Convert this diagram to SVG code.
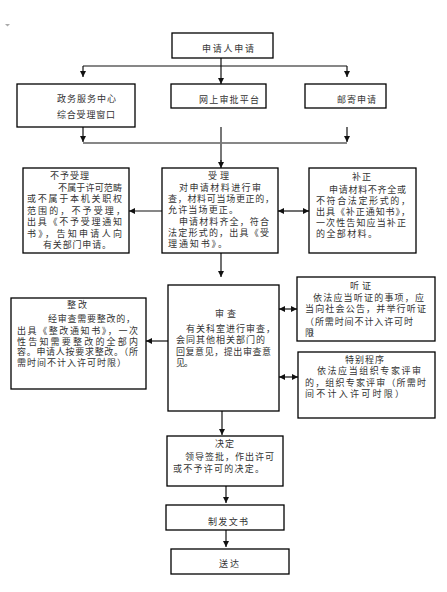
<svg xmlns="http://www.w3.org/2000/svg" width="447" height="592" viewBox="0 0 447 592">
<style>
.box{fill:#fff;stroke:#000;stroke-width:1.3}
.t{font-family:"Liberation Sans","Noto Sans CJK SC",sans-serif;font-size:9px;fill:#333}
.ln{fill:none;stroke:#111;stroke-width:1.2}
.gr{fill:none;stroke:#777;stroke-width:2}
</style>
<defs>
<marker id="ah" markerUnits="userSpaceOnUse" markerWidth="7" markerHeight="7" refX="6" refY="3" orient="auto-start-reverse">
<path d="M0,0 L6,3 L0,6 z" fill="#111"/>
</marker>
</defs>
<rect width="447" height="592" fill="#fff"/>
<polygon points="5,24 10,24 7.5,26.5" fill="#aaa"/>

<g id="connectors">
<path class="ln" d="M221,58 V66 M83,66 H347"/>
<path class="ln" d="M83,66 V77" marker-end="url(#ah)"/>
<path class="ln" d="M347,66 V77" marker-end="url(#ah)"/>
<path class="ln" d="M221,66 V84" marker-end="url(#ah)"/>
<path class="ln" d="M83,127 V142" marker-end="url(#ah)"/>
<path class="ln" d="M347,127 V142" marker-end="url(#ah)"/>
<path class="ln" d="M83,143 H347"/>
<path class="gr" d="M221,127 V162"/>
<path class="ln" d="M221,160 V168" marker-end="url(#ah)"/>
<path class="ln" d="M162,211 H129" marker-end="url(#ah)"/>
<path class="ln" d="M278,211 H309" marker-start="url(#ah)" marker-end="url(#ah)"/>
<path class="ln" d="M221,253 V277" marker-end="url(#ah)"/>
<path class="ln" d="M168,341 H146" marker-end="url(#ah)"/>
<path class="ln" d="M279,309 H297" marker-start="url(#ah)" marker-end="url(#ah)"/>
<path class="ln" d="M279,377 H298" marker-start="url(#ah)" marker-end="url(#ah)"/>
<path class="ln" d="M222,411 V435" marker-end="url(#ah)"/>
<path class="ln" d="M226,486 V503" marker-end="url(#ah)"/>
<path class="ln" d="M226,530 V547" marker-end="url(#ah)"/>
</g>

<g id="apply">
<rect class="box" x="172" y="33" width="101" height="25"/>
<text class="t" x="202" y="51.5" textLength="52">申请人申请</text>
</g>
<g id="window">
<rect class="box" x="17" y="84" width="118" height="43"/>
<text class="t" x="57" y="101.5" textLength="59">政务服务中心</text>
<text class="t" x="57" y="117.5" textLength="58">综合受理窗口</text>
</g>
<g id="online">
<rect class="box" x="171" y="84" width="95" height="24"/>
<text class="t" x="199" y="102.5" textLength="60">网上审批平台</text>
</g>
<g id="mail">
<rect class="box" x="305" y="84" width="81" height="24"/>
<text class="t" x="337" y="102.5" textLength="39">邮寄申请</text>
</g>

<g id="reject">
<rect class="box" x="23" y="168" width="106" height="85"/>
<text class="t" x="50" y="179.3" textLength="39">不予受理</text>
<text class="t" x="58" y="190.8" textLength="64">不属于许可范畴</text>
<text class="t" x="27" y="202.3" textLength="95">或不属于本机关职权</text>
<text class="t" x="27" y="213.8" textLength="98">范围的，不予受理，</text>
<text class="t" x="27" y="225.3" textLength="95">出具《不予受理通知</text>
<text class="t" x="27" y="236.8" textLength="95">书》，告知申请人向</text>
<text class="t" x="43" y="248.3" textLength="68">有关部门申请。</text>
</g>
<g id="accept">
<rect class="box" x="162" y="168" width="116" height="85"/>
<text class="t" x="208" y="179.3" textLength="21">受理</text>
<text class="t" x="179" y="190.6" textLength="82">对申请材料进行审</text>
<text class="t" x="168" y="201.9" textLength="106">查，材料可当场更正的，</text>
<text class="t" x="168" y="213.2" textLength="70">允许当场更正。</text>
<text class="t" x="179" y="224.5" textLength="90">申请材料齐全，符合</text>
<text class="t" x="168" y="235.8" textLength="101">法定形式的，出具《受</text>
<text class="t" x="168" y="247.1" textLength="59">理通知书》。</text>
</g>
<g id="supplement">
<rect class="box" x="309" y="168" width="107" height="85"/>
<text class="t" x="352" y="179.5" textLength="19">补正</text>
<text class="t" x="329" y="192.5" textLength="77">申请材料不齐全或</text>
<text class="t" x="316" y="203.5" textLength="94">不符合法定形式的，</text>
<text class="t" x="316" y="214.5" textLength="94">出具《补正通知书》，</text>
<text class="t" x="316" y="225.5" textLength="90">一次性告知应当补正</text>
<text class="t" x="316" y="236.5" textLength="61">的全部材料。</text>
</g>

<g id="rectify">
<rect class="box" x="11" y="298" width="135" height="91"/>
<text class="t" x="67" y="308.3" textLength="20">整改</text>
<text class="t" x="48" y="322.3" textLength="87">经审查需要整改的，</text>
<text class="t" x="17" y="333.8" textLength="121">出具《整改通知书》，一次</text>
<text class="t" x="17" y="344.8" textLength="121">性告知需要整改的全部内</text>
<text class="t" x="17" y="355.3" textLength="121">容。申请人按要求整改。（所</text>
<text class="t" x="17" y="365.8" textLength="109">需时间不计入许可时限）</text>
</g>
<g id="review">
<rect class="box" x="168" y="285" width="111" height="126"/>
<text class="t" x="215" y="316.5" textLength="21">审查</text>
<text class="t" x="186" y="331.5" textLength="89">有关科室进行审查，</text>
<text class="t" x="176" y="342.5" textLength="89">会同其他相关部门的</text>
<text class="t" x="176" y="354.5" textLength="95">回复意见，提出审查意</text>
<text class="t" x="176" y="365.5" textLength="17">见。</text>
</g>
<g id="hearing">
<rect class="box" x="297" y="277" width="138" height="64"/>
<text class="t" x="350" y="288.5" textLength="21">听证</text>
<text class="t" x="313" y="300.5" textLength="111">依法应当听证的事项，应</text>
<text class="t" x="305" y="311.5" textLength="121">当向社会公告，并举行听证</text>
<text class="t" x="305" y="324.5" textLength="108">（所需时间不计入许可时</text>
<text class="t" x="305" y="335.5" textLength="14">限）</text>
</g>
<g id="special">
<rect class="box" x="298" y="352" width="137" height="66"/>
<text class="t" x="345" y="362.5" textLength="39">特别程序</text>
<text class="t" x="317" y="373.5" textLength="104">依法应当组织专家评审</text>
<text class="t" x="305" y="385.5" textLength="121">的，组织专家评审（所需时</text>
<text class="t" x="305" y="396.5" textLength="99">间不计入许可时限）</text>
</g>

<g id="decision">
<rect class="box" x="167" y="436" width="116" height="50"/>
<text class="t" x="215" y="446.5" textLength="19">决定</text>
<text class="t" x="185" y="459.5" textLength="89">领导签批，作出许可</text>
<text class="t" x="173" y="471.5" textLength="91">或不予许可的决定。</text>
</g>
<g id="issue">
<rect class="box" x="166" y="505" width="118" height="25"/>
<text class="t" x="208" y="524.5" textLength="40">制发文书</text>
</g>
<g id="deliver">
<rect class="box" x="171" y="549" width="118" height="25"/>
<text class="t" x="219" y="566.5" textLength="20">送达</text>
</g>
</svg>
